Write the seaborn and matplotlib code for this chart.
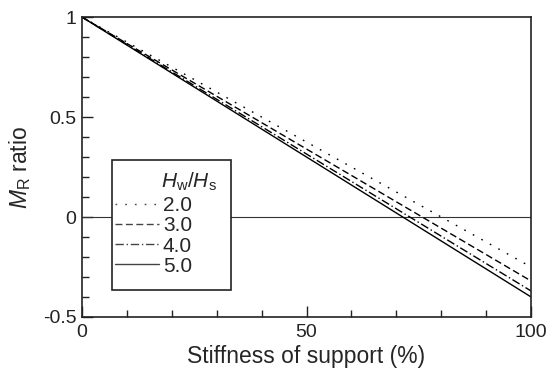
import numpy as np
import pandas as pd
import seaborn as sns
from matplotlib import pyplot as plt
from matplotlib.patches import Rectangle
from matplotlib.ticker import MultipleLocator

sns.set_style('ticks')
plt.rcParams['font.family'] = ['Liberation Sans', 'DejaVu Sans']
plt.rcParams['mathtext.fontset'] = 'custom'
plt.rcParams['mathtext.rm'] = 'Liberation Sans'
plt.rcParams['mathtext.it'] = 'Liberation Sans:italic'
plt.rcParams['axes.unicode_minus'] = False

# stiffness of support (%) and M_R ratio at both ends of each line
stiffness = [0, 100]
hw_hs = ['2.0', '3.0', '4.0', '5.0']
ratio_start = [1.0, 1.0, 1.0, 1.0]
ratio_end = [-0.25, -0.32, -0.37, -0.40]

rows = []
for name, r0, r1 in zip(hw_hs, ratio_start, ratio_end):
    rows.append((name, stiffness[0], r0))
    rows.append((name, stiffness[1], r1))
df = pd.DataFrame(rows, columns=['hw', 'stiffness', 'ratio'])

fig = plt.figure(figsize=(5.59, 3.72), dpi=100)
ax = fig.add_axes([0.1467, 0.148, 0.8033, 0.806])

ax.axhline(0, color='#333333', lw=0.8, zorder=1)
sns.lineplot(data=df, x='stiffness', y='ratio', style='hw',
             dashes=[(1.2, 5.8), (5, 2.5), (6, 2, 1, 2), ''],
             color='black', lw=1.0, ax=ax, zorder=2)

ax.set_xlim(0, 100)
ax.set_ylim(-0.5, 1)
ax.set_xticks([0, 50, 100])
ax.set_xticklabels(['0', '50', '100'])
ax.set_yticks([-0.5, 0, 0.5, 1])
ax.set_yticklabels(['-0.5', '0', '0.5', '1'])
ax.xaxis.set_minor_locator(MultipleLocator(10))
ax.yaxis.set_minor_locator(MultipleLocator(0.1))
ax.tick_params(which='both', direction='in', labelsize=14, colors='#222222',
               width=1.0)
ax.tick_params(which='major', length=8)
ax.tick_params(which='minor', length=5)
ax.tick_params(axis='x', pad=5)
ax.tick_params(axis='y', pad=4)
for s in ax.spines.values():
    s.set_linewidth(1.2)
    s.set_color('#222222')

ax.set_xlabel('Stiffness of support (%)', fontsize=16.5, labelpad=3)
ax.set_ylabel(r'$\mathit{M}_{\mathrm{R}}$ ratio', fontsize=16.5, labelpad=7)

# legend frame (white, hides the zero line)
ax.add_patch(Rectangle((0.0668, 0.09), 0.2655, 0.433, transform=ax.transAxes,
                       facecolor='white', edgecolor='#222222', lw=1.2,
                       zorder=3))
ax.text(0.3007, 0.452, r'$\mathit{H}_{\mathrm{w}}/\mathit{H}_{\mathrm{s}}$',
        transform=ax.transAxes, ha='right', va='center', fontsize=15,
        zorder=4)

handles, labels = ax.get_legend_handles_labels()
for h in handles:
    h.set_color('#444444')
leg = ax.legend(handles, labels, loc='center left',
                bbox_to_anchor=(0.0735, 0.27), fontsize=15, frameon=False,
                handlelength=2.1, handletextpad=0.2, labelspacing=0.05,
                borderpad=0, borderaxespad=0)
leg.set_zorder(5)

fig.savefig('out.png', dpi=100)
